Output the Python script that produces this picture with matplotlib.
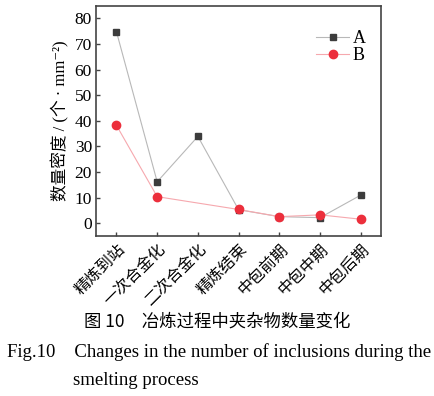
import numpy as np
import matplotlib.pyplot as plt

plt.rcParams['font.family'] = ['Liberation Serif', 'Noto Sans CJK SC', 'DejaVu Sans']

stages = ['精炼到站', '一次合金化', '二次合金化', '精炼结束', '中包前期', '中包中期', '中包后期']
a_vals = [74.7, 16.2, 33.9, 5.3, 2.6, 2.2, 11.0]
b_idx = [0, 1, 3, 4, 5, 6]
b_vals = [38.2, 10.4, 5.4, 2.6, 3.3, 1.6]

fig = plt.figure(figsize=(4.35, 3.96), dpi=100)
ax = fig.add_axes([0.221, 0.405, 0.655, 0.58])

x = np.arange(len(stages))
ax.plot(x, a_vals, '-', color='#b8b8b8', lw=0.8, marker='s', ms=5,
        mfc='#3c3c3c', mec='#3c3c3c', label='A')
ax.plot(b_idx, b_vals, '-', color='#f6a8ae', lw=0.8, marker='o', ms=6,
        mfc='#ec2f3c', mec='#ec2f3c', label='B')

ax.set_xlim(-0.5, 6.5)
ax.set_ylim(-4.8, 84.8)
ax.set_yticks(range(0, 81, 10))
ax.set_xticks(x)
ax.set_xticklabels(stages, rotation=45, ha='right', va='top', rotation_mode='anchor',
                   family=['Noto Sans CJK SC'], fontsize=11.5)
ax.tick_params(axis='both', direction='in', length=3, width=1, colors='#444444',
               labelcolor='black')
ax.tick_params(axis='y', labelsize=12.5, pad=3)
for s in ax.spines.values():
    s.set_linewidth(1.2)
    s.set_color('#444444')
ax.set_ylabel('数量密度 / (个 · mm⁻²)', fontsize=12, labelpad=4)

leg = ax.legend(loc='upper right', frameon=False, fontsize=13, handlelength=1.8,
                handletextpad=0.2, labelspacing=0.0, borderaxespad=0.3,
                bbox_to_anchor=(0.99, 0.95))

fig.text(0.499, 0.187, '图 10　冶炼过程中夹杂物数量变化', ha='center', va='center',
         fontsize=12.5, family=['Noto Sans CJK SC'])
fig.text(0.015, 0.111, 'Fig.10    Changes in the number of inclusions during the',
         ha='left', va='center', fontsize=13.5)
fig.text(0.168, 0.04, 'smelting process', ha='left', va='center', fontsize=13.5)

fig.savefig('out.png', dpi=100)
